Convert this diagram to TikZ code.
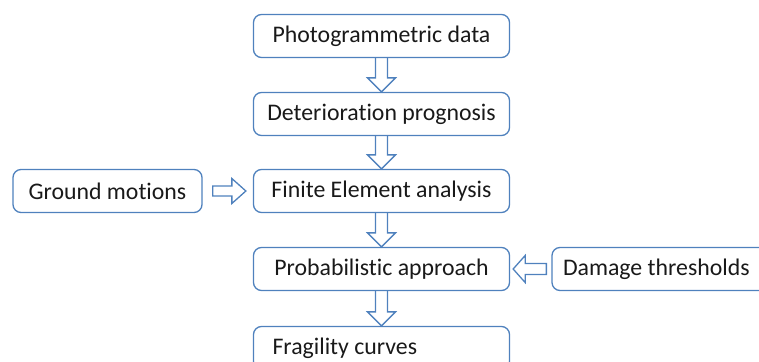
\documentclass[tikz,border=0pt]{standalone}
\usepackage{fontspec}
\setmainfont[Ligatures={NoCommon}]{Carlito}
\usetikzlibrary{calc}
\definecolor{boxblue}{RGB}{79,129,189}
\begin{document}
\begin{tikzpicture}[x=1pt,y=-1pt,
  box/.style={draw=boxblue, line width=1.3pt, rounded corners=8pt, minimum height=43pt,
    inner xsep=0pt, inner ysep=0pt, font=\fontsize{23.8}{27}\selectfont, text=black!90},
  fat/.style={draw=boxblue, line width=1.3pt, line join=miter}]
\path[use as bounding box, clip] (0,0) rectangle (759,361);
\node[box, minimum width=256pt] (photo) at (381.5,36) {Photogrammetric data};
\node[box, minimum width=256pt] (det) at (381.5,114) {Deterioration prognosis};
\node[box, minimum width=256pt] (fea) at (381.5,191) {Finite Element analysis};
\node[box, minimum width=256pt] (prob) at (381.5,269) {Probabilistic approach};
\node[box, inner xsep=19pt] (frag) at (381.5,348) {\makebox[218pt][l]{Fragility curves}};
\node[box, minimum width=189pt] (ground) at (107.5,191) {Ground motions};
\node[box, inner xsep=11pt] (damage) at (666.5,269) {\makebox[207pt][l]{Damage thresholds}};
\foreach \a/\b in {photo/det, det/fea, fea/prob, prob/frag}{
  \draw[fat] ($(\a.south)+(-6,0)$) -- ($(\b.north)+(-6,-14)$) -- ($(\b.north)+(-14,-14)$)
    -- (\b.north) -- ($(\b.north)+(14,-14)$) -- ($(\b.north)+(6,-14)$) -- ($(\a.south)+(6,0)$);
}
\draw[fat] ($(ground.east)+(10,-5)$) -- ($(fea.west)+(-21,-5)$) -- ($(fea.west)+(-21,-12.5)$)
  -- ($(fea.west)+(-7,0)$) -- ($(fea.west)+(-21,12.5)$) -- ($(fea.west)+(-21,5)$)
  -- ($(ground.east)+(10,5)$) -- cycle;
\draw[fat] ($(damage.west)+(-5,-5.5)$) -- ($(prob.east)+(15,-5.5)$) -- ($(prob.east)+(15,-13.5)$)
  -- ($(prob.east)+(3,0)$) -- ($(prob.east)+(15,13.5)$) -- ($(prob.east)+(15,5.5)$)
  -- ($(damage.west)+(-5,5.5)$) -- cycle;
\end{tikzpicture}
\end{document}
